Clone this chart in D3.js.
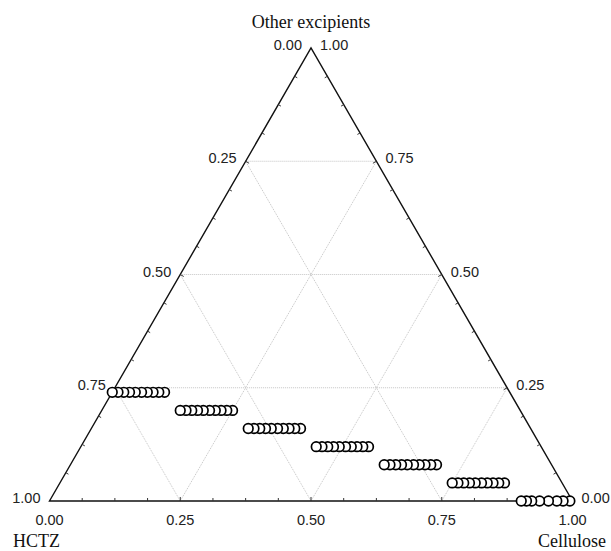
<!DOCTYPE html>
<html>
<head>
<meta charset="utf-8">
<script src="https://cdn.jsdelivr.net/npm/d3@7"></script>
<style>
  html, body { margin: 0; padding: 0; background: #ffffff; }
  svg { display: block; }
  .tick-label { font-family: "Liberation Sans", Arial, sans-serif; font-size: 14.5px; fill: #222; }
  .axis-title { font-family: "Liberation Serif", "Times New Roman", serif; font-size: 18px; fill: #111; }
</style>
</head>
<body>
<svg id="chart" width="611" height="551"></svg>
<script>
// Component names at the three corners
const cornerNames = ["HCTZ", "Cellulose", "Other excipients"];

// Tick labels on each side
const leftTickLabels = ["0.00", "0.25", "0.50", "0.75", "1.00"];   // top -> bottom-left
const rightTickLabels = ["1.00", "0.75", "0.50", "0.25", "0.00"];  // top -> bottom-right
const bottomTickLabels = ["0.00", "0.25", "0.50", "0.75", "1.00"]; // left -> right

// Formulations: each row has a fixed "Other excipients" fraction
const otherLevels = [0.24, 0.20, 0.16, 0.12, 0.08, 0.04, 0.00];

// Cellulose fraction of each formulation in the row (HCTZ = 1 - cellulose - other)
const cellRow1 = [0.000, 0.011, 0.022, 0.033, 0.044, 0.056, 0.067, 0.078, 0.089, 0.100];
const cellRow2 = [0.150, 0.161, 0.172, 0.183, 0.194, 0.206, 0.217, 0.228, 0.239, 0.250];
const cellRow3 = [0.300, 0.311, 0.322, 0.333, 0.344, 0.356, 0.367, 0.378, 0.389, 0.400];
const cellRow4 = [0.450, 0.461, 0.472, 0.483, 0.494, 0.506, 0.517, 0.528, 0.539, 0.550];
const cellRow5 = [0.600, 0.611, 0.622, 0.633, 0.644, 0.656, 0.667, 0.678, 0.689, 0.700];
const cellRow6 = [0.750, 0.761, 0.772, 0.783, 0.794, 0.806, 0.817, 0.828, 0.839, 0.850];
const cellRow7 = [0.902, 0.912, 0.922, 0.937, 0.954, 0.970, 0.982, 0.995];
const celluloseRows = [cellRow1, cellRow2, cellRow3, cellRow4, cellRow5, cellRow6, cellRow7];

const gridLevels = [0.25, 0.5, 0.75];

const svg = d3.select("#chart");

// Ternary projection: horizontal position = cellulose + other/2, vertical = other
const xs = d3.scaleLinear().domain([0, 1]).range([49.5, 572.5]);
const ys = d3.scaleLinear().domain([0, 1]).range([501, 48]);
function project(cell, other) {
  return [xs(cell + other / 2), ys(other)];
}

const line = d3.line();

// Grid lines (dotted, light grey) for each component at 0.25 / 0.50 / 0.75
const grid = svg.append("g").attr("fill", "none").attr("stroke", "#c4c4c4")
  .attr("stroke-width", 1).attr("stroke-dasharray", "1,1");
gridLevels.forEach(v => {
  // constant "other"
  grid.append("path").attr("d", line([project(0, v), project(1 - v, v)]));
  // constant cellulose
  grid.append("path").attr("d", line([project(v, 0), project(v, 1 - v)]));
  // constant HCTZ
  grid.append("path").attr("d", line([project(1 - v, 0), project(0, 1 - v)]));
});

// Triangle outline
const A = project(0, 0), B = project(1, 0), C = project(0, 1);
svg.append("path")
  .attr("d", line([A, B, C]) + "Z")
  .attr("fill", "none").attr("stroke", "#111").attr("stroke-width", 1.4);

// Small inward ticks every 0.0625 along each side
const tickSteps = d3.range(1, 16).map(i => i / 16);
const ticks = svg.append("g").attr("stroke", "#333").attr("stroke-width", 1);
tickSteps.forEach(t => {
  const len = (Math.abs(t * 4 - Math.round(t * 4)) < 1e-9) ? 4 : 3;
  // bottom side
  const pb = project(t, 0);
  ticks.append("path").attr("d", line([pb, [pb[0], pb[1] - len]]));
  // left side
  const pl = project(0, t);
  ticks.append("path").attr("d", line([pl, [pl[0] + len * 0.866, pl[1] + len * 0.5]]));
  // right side
  const pr = project(1 - t, t);
  ticks.append("path").attr("d", line([pr, [pr[0] - len * 0.866, pr[1] + len * 0.5]]));
});

// Tick labels
const labels = svg.append("g");
leftTickLabels.forEach((lab, i) => {
  const other = 1 - i / 4;
  const p = project(0, other);
  labels.append("text").attr("class", "tick-label")
    .attr("x", p[0] - 9).attr("y", p[1] - 3).attr("dy", "0.35em")
    .attr("text-anchor", "end").text(lab);
});
rightTickLabels.forEach((lab, i) => {
  const other = 1 - i / 4;
  const p = project(1 - other, other);
  labels.append("text").attr("class", "tick-label")
    .attr("x", p[0] + 9).attr("y", p[1] - 3).attr("dy", "0.35em")
    .attr("text-anchor", "start").text(lab);
});
bottomTickLabels.forEach((lab, i) => {
  const p = project(i / 4, 0);
  labels.append("text").attr("class", "tick-label")
    .attr("x", p[0]).attr("y", p[1] + 19).attr("dy", "0.35em")
    .attr("text-anchor", "middle").text(lab);
});

// Corner titles
svg.append("text").attr("class", "axis-title")
  .attr("x", C[0]).attr("y", 22).attr("dy", "0.35em")
  .attr("text-anchor", "middle").text(cornerNames[2]);
svg.append("text").attr("class", "axis-title")
  .attr("x", 13).attr("y", 541).attr("dy", "0.35em")
  .attr("text-anchor", "start").text(cornerNames[0]);
svg.append("text").attr("class", "axis-title")
  .attr("x", 606).attr("y", 541).attr("dy", "0.35em")
  .attr("text-anchor", "end").text(cornerNames[1]);

// Formulation points: open circles
const points = [];
otherLevels.forEach((o, r) => {
  celluloseRows[r].forEach(c => points.push({ other: o, cellulose: c, hctz: 1 - o - c }));
});
svg.append("g").selectAll("circle")
  .data(points.slice().reverse())
  .join("circle")
  .attr("cx", d => project(d.cellulose, d.other)[0])
  .attr("cy", d => project(d.cellulose, d.other)[1])
  .attr("r", 4.8)
  .attr("fill", "#ffffff")
  .attr("stroke", "#000")
  .attr("stroke-width", 1.7);
</script>
</body>
</html>
